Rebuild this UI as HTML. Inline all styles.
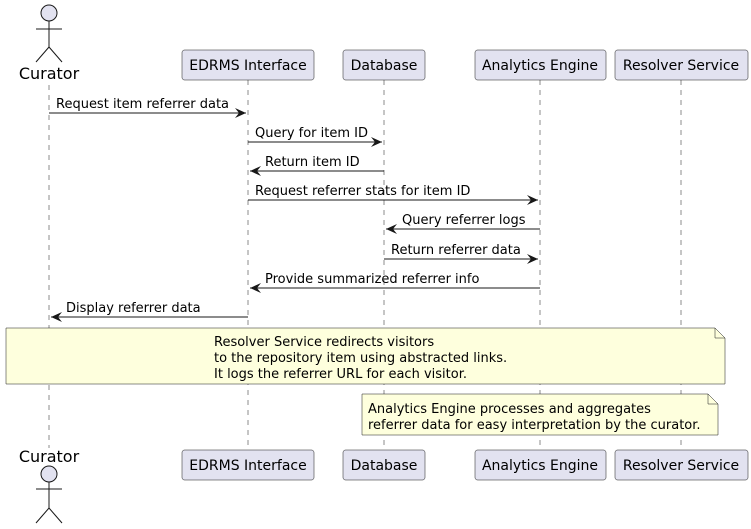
<!DOCTYPE html>
<html><head><meta charset="utf-8"><style>
html,body{margin:0;padding:0;background:#fff;}
svg{display:block;}
text{font-family:"DejaVu Sans","Liberation Sans",sans-serif;font-size:13px;fill:#000;}
</style></head><body>
<svg width="751" height="529" viewBox="0 0 751 529" xmlns="http://www.w3.org/2000/svg">
<defs>
<marker id="a" markerWidth="12" markerHeight="10" refX="11" refY="5" orient="auto" markerUnits="userSpaceOnUse">
<path d="M0,0 L11,5 L0,10 L4,5 Z" fill="#181818"/>
</marker>
</defs>
<g stroke="#181818" stroke-width="0.5" stroke-dasharray="5,5">
<line x1="49" y1="85" x2="49" y2="448"/>
<line x1="248" y1="80" x2="248" y2="450"/>
<line x1="384" y1="80" x2="384" y2="450"/>
<line x1="540" y1="80" x2="540" y2="450"/>
<line x1="681" y1="80" x2="681" y2="450"/>
</g>
<g stroke="#181818" fill="none" stroke-width="1">
<circle cx="49" cy="13" r="8" fill="#E2E2F0"/>
<line x1="49" y1="21" x2="49" y2="47"/>
<line x1="36" y1="29" x2="62" y2="29"/>
<line x1="49" y1="47" x2="36" y2="62"/>
<line x1="49" y1="47" x2="62" y2="62"/>
</g>
<text x="49" y="79" text-anchor="middle" style="font-size:16px">Curator</text>
<text x="49" y="462" text-anchor="middle" style="font-size:16px">Curator</text>
<g stroke="#181818" fill="none" stroke-width="1">
<circle cx="49" cy="474" r="8" fill="#E2E2F0"/>
<line x1="49" y1="482" x2="49" y2="508"/>
<line x1="36" y1="489" x2="62" y2="489"/>
<line x1="49" y1="508" x2="36" y2="523"/>
<line x1="49" y1="508" x2="62" y2="523"/>
</g>
<g fill="#E2E2F0" stroke="#181818" stroke-width="0.5">
<rect x="182" y="50" width="132" height="30" rx="2.5"/>
<rect x="343" y="50" width="82" height="30" rx="2.5"/>
<rect x="475" y="50" width="131" height="30" rx="2.5"/>
<rect x="615" y="50" width="133" height="30" rx="2.5"/>
<rect x="182" y="450" width="132" height="30" rx="2.5"/>
<rect x="343" y="450" width="82" height="30" rx="2.5"/>
<rect x="475" y="450" width="131" height="30" rx="2.5"/>
<rect x="615" y="450" width="133" height="30" rx="2.5"/>
</g>
<g text-anchor="middle">
<text x="248" y="70" style="font-size:14px">EDRMS Interface</text>
<text x="384" y="70" style="font-size:14px">Database</text>
<text x="540" y="70" style="font-size:14px">Analytics Engine</text>
<text x="681" y="70" style="font-size:14px">Resolver Service</text>
<text x="248" y="470" style="font-size:14px">EDRMS Interface</text>
<text x="384" y="470" style="font-size:14px">Database</text>
<text x="540" y="470" style="font-size:14px">Analytics Engine</text>
<text x="681" y="470" style="font-size:14px">Resolver Service</text>
</g>
<g stroke="#181818" stroke-width="1" marker-end="url(#a)">
<line x1="49" y1="113" x2="246" y2="113"/>
<line x1="248" y1="142" x2="382" y2="142"/>
<line x1="384" y1="171" x2="250" y2="171"/>
<line x1="248" y1="200" x2="538" y2="200"/>
<line x1="540" y1="229" x2="386" y2="229"/>
<line x1="384" y1="259" x2="538" y2="259"/>
<line x1="540" y1="288" x2="250" y2="288"/>
<line x1="248" y1="317" x2="51" y2="317"/>
</g>
<text x="56" y="108">Request item referrer data</text>
<text x="255" y="137">Query for item ID</text>
<text x="265" y="166">Return item ID</text>
<text x="255" y="195">Request referrer stats for item ID</text>
<text x="402" y="224">Query referrer logs</text>
<text x="391" y="254">Return referrer data</text>
<text x="265" y="283">Provide summarized referrer info</text>
<text x="66" y="312">Display referrer data</text>
<path d="M6,328 L715,328 L725,338 L725,384 L6,384 Z" fill="#FEFFDD" stroke="#181818" stroke-width="0.5"/>
<path d="M715,328 L715,338 L725,338" fill="none" stroke="#181818" stroke-width="0.5"/>
<text x="214" y="346">Resolver Service redirects visitors</text>
<text x="214" y="362">to the repository item using abstracted links.</text>
<text x="214" y="378">It logs the referrer URL for each visitor.</text>
<path d="M362,394 L708,394 L718,404 L718,435 L362,435 Z" fill="#FEFFDD" stroke="#181818" stroke-width="0.5"/>
<path d="M708,394 L708,404 L718,404" fill="none" stroke="#181818" stroke-width="0.5"/>
<text x="368" y="413">Analytics Engine processes and aggregates</text>
<text x="368" y="429">referrer data for easy interpretation by the curator.</text>
</svg>
</body></html>
